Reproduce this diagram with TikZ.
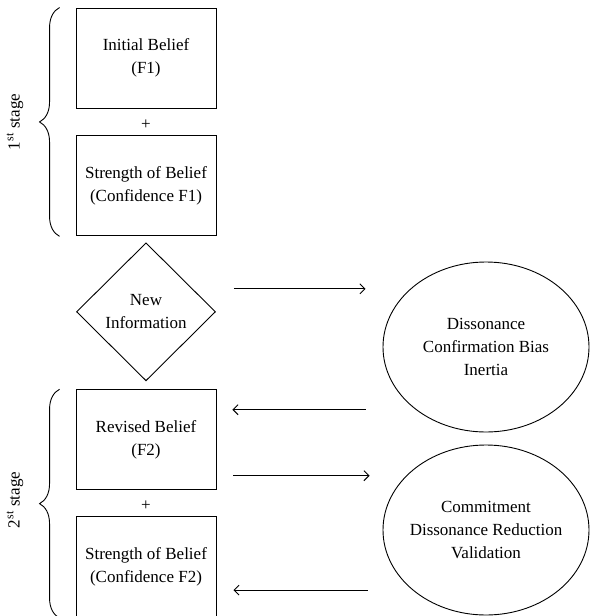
\documentclass[tikz,border=0pt]{standalone}
\usepackage{fontspec}
\setmainfont{Liberation Serif}
\usetikzlibrary{positioning,calc,shapes.geometric,decorations.pathreplacing,arrows.meta}

\begin{document}
\begin{tikzpicture}[x=1pt,y=-1pt,line width=0.9pt,
        every node/.style={font=\fontsize{17}{23}\selectfont},
        belief/.style={rectangle,draw,minimum width=140pt,minimum height=100pt,align=center},
        newinfo/.style={diamond,draw,aspect=1,minimum width=139pt,minimum height=138pt,inner sep=0pt,align=center},
        effect/.style={ellipse,draw,minimum width=206pt,minimum height=170pt,inner xsep=-5pt,inner ysep=0pt,align=center},
        arr/.style={-{Straight Barb[length=5pt,width=10pt]}},
        stagebrace/.style={decorate,decoration={brace,amplitude=20pt}}]

        \useasboundingbox (0,0) rectangle (590,616);

        % first stage
        \node[belief] (init) at (146,58) {Initial Belief\\(F1)};
        \node[belief,below=27pt of init] (conf1) {Strength of Belief\\(Confidence F1)};
        \node (plus1) at ($(init.south)!0.6!(conf1.north)$) {+};

        \node[newinfo,below=6pt of conf1] (info) {New\\Information};

        % second stage
        \node[belief,below=8pt of info] (rev) {Revised Belief\\(F2)};
        \node[belief,below=26pt of rev,minimum height=101pt] (conf2) {Strength of Belief\\(Confidence F2)};
        \node (plus2) at ($(rev.south)!0.6!(conf2.north)$) {+};

        \node[effect] (diss) at (486,347) {Dissonance\\Confirmation Bias\\Inertia};
        \node[effect] (comm) at (486,530) {Commitment\\Dissonance Reduction\\Validation};

        \draw[stagebrace] ([xshift=-16pt]conf1.south west) -- ([xshift=-16pt]init.north west);
        \draw[stagebrace] ([xshift=-16pt]conf2.south west) -- ([xshift=-16pt]rev.north west);
        \node[rotate=90] (stage1) at (15,122) {1\textsuperscript{st} stage};
        \node[rotate=90] (stage2) at (15,500) {2\textsuperscript{st} stage};

        \path ([yshift=23pt]info.east) coordinate (a1)
              ([yshift=30pt]rev.east) coordinate (a2)
              ([yshift=-36pt]rev.east) coordinate (a3)
              ([yshift=-23pt]conf2.east) coordinate (a4);
        \draw[arr,shorten <=18pt,shorten >=17pt] (a1) -- (a1 -| diss.west);
        \draw[arr,shorten <=17pt,shorten >=16pt] (a2 -| diss.west) -- (a2);
        \draw[arr,shorten <=17pt,shorten >=13pt] (a3) -- (a3 -| comm.west);
        \draw[arr,shorten <=15pt,shorten >=17pt] (a4 -| comm.west) -- (a4);
\end{tikzpicture}
\end{document}
